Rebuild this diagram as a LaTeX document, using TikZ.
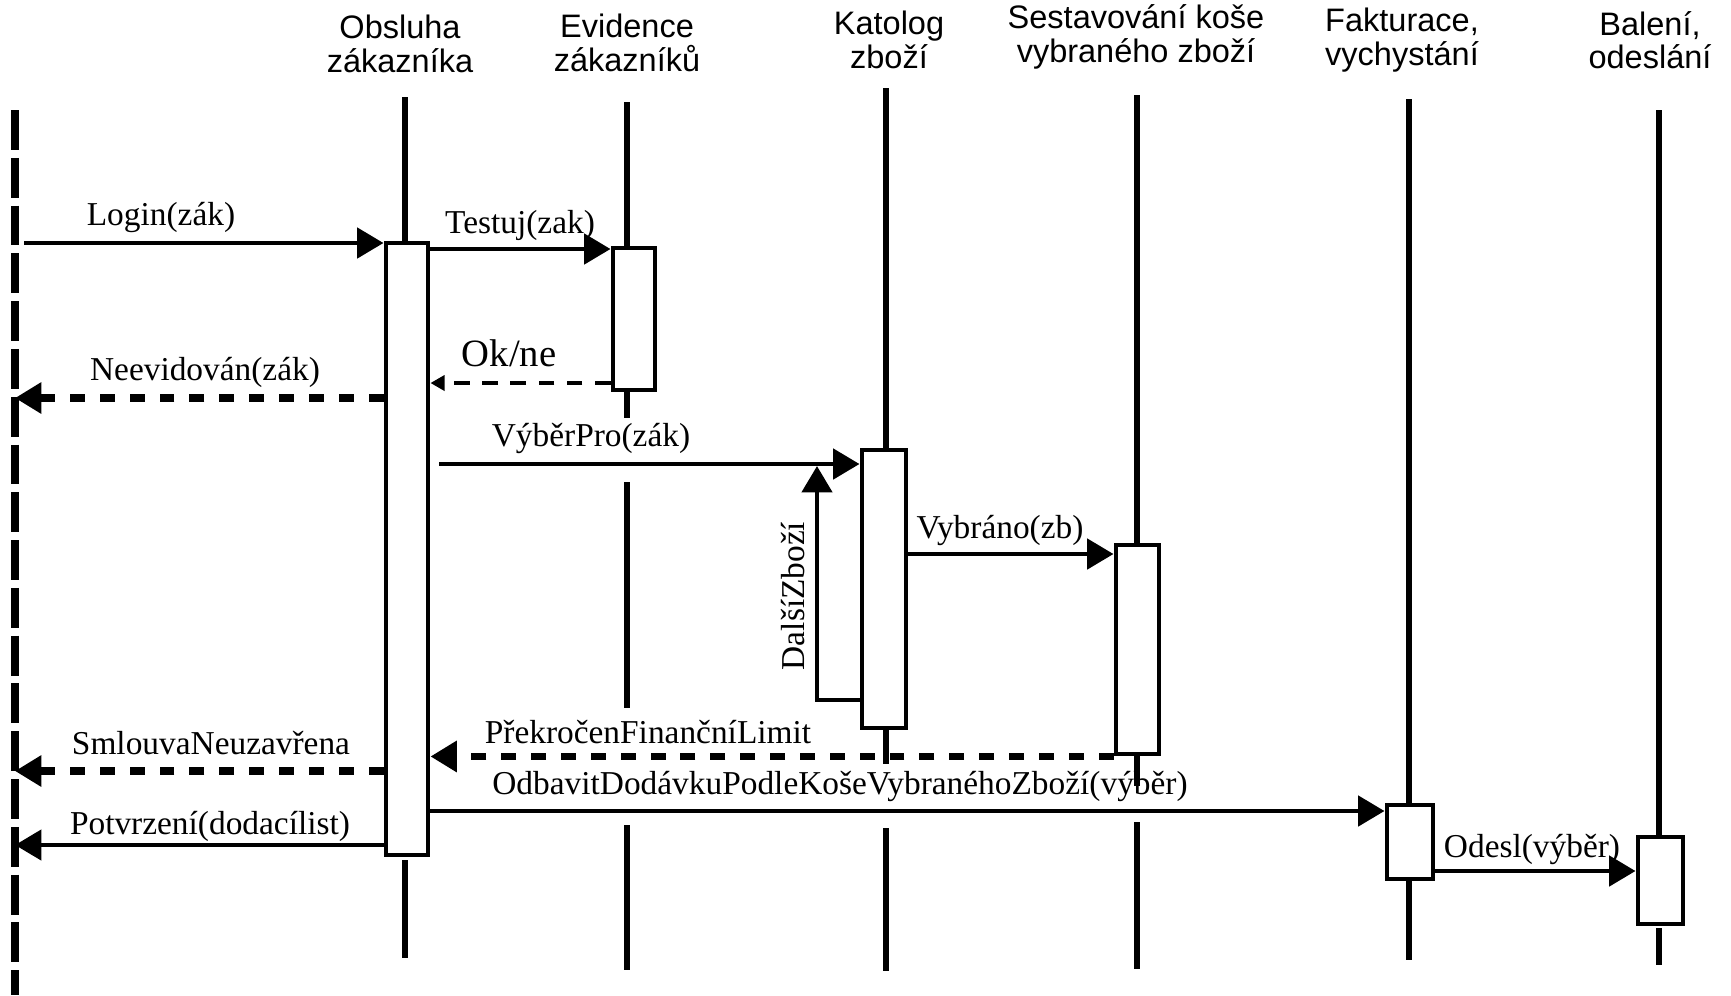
\documentclass[tikz,border=0pt]{standalone}
\usepackage{fontspec}
\setmainfont{Liberation Serif}
\newfontfamily\headfont{Liberation Sans}
\usetikzlibrary{arrows.meta,fit}
\tikzset{
	x=0.02cm, y=-0.02cm, % one unit is one pixel of the sketch, y runs down
	head/.style={font=\headfont\fontsize{18.5}{19}\selectfont, align=center, inner sep=0pt},
	lbl/.style={font=\fontsize{19}{22}\selectfont, inner sep=0pt},
	life/.style={line width=3.2pt},
	actor/.style={line width=4.5pt, dash pattern=on 22.7pt off 4.5pt},
	actbox/.style={draw, line width=2.8pt, fill=white, inner sep=0pt},
	msg/.style={line width=2.8pt, -{Triangle[length=15pt,width=17pt]}},
	ret/.style={line width=4.5pt, dash pattern=on 8.5pt off 8.5pt, -{Triangle[length=15pt,width=17pt]}},
	reply/.style={line width=2.8pt, dash pattern=on 9pt off 7pt, -{Triangle[length=8pt,width=8.5pt]}},
}
\begin{document}
\begin{tikzpicture}
	\useasboundingbox (0,0) rectangle (1731,995);
	% headings
	\node[head] (obHead) at (400,44) {Obsluha\\zákazníka};
	\node[head] (evHead) at (627,43) {Evidence\\zákazníků};
	\node[head] (kaHead) at (889,40) {Katolog\\zboží};
	\node[head] (seHead) at (1136,37) {Sestavování koše\\vybraného zboží};
	\node[head] (faHead) at (1402,40) {Fakturace,\\vychystání};
	\node[head] (baHead) at (1650,40) {Balení,\\odeslání};

	% lifelines
	\draw[life] (405,97) -- (405,243) (405,860) -- (405,958);
	\draw[life] (627,102) -- (627,248) (627,390) -- (627,418) (627,482) -- (627,708) (627,825) -- (627,970);
	\draw[life] (886,88) -- (886,450) (886,728) -- (886,764) (886,828) -- (886,971);
	\draw[life] (1137,95) -- (1137,545) (1137,754) -- (1137,786) (1137,822) -- (1137,969);
	\draw[life] (1409,99) -- (1409,805) (1409,879) -- (1409,960);
	\draw[life] (1659,110) -- (1659,837) (1659,928) -- (1659,965);

	% activations
	\node[actbox, fit={(386,243) (428,855)}] (obBox) {};
	\node[actbox, fit={(613,248) (655,390)}] (evBox) {};
	\node[actbox, fit={(862,450) (906,728)}] (kaBox) {};
	\node[actbox, fit={(1116,545) (1159,754)}] (seBox) {};
	\node[actbox, fit={(1387,805) (1433,879)}] (faBox) {};
	\node[actbox, fit={(1638,837) (1683,924)}] (baBox) {};

	% the customer
	\coordinate (usrTop) at (15,110);
	\coordinate (usrBot) at (15,995);
	\coordinate (loginStart) at (24,243);
	\coordinate (vyberStart) at (439,464);
	\draw[actor] (usrTop) -- (usrBot);

	% messages
	\draw[msg] (loginStart) -- (obBox.west |- 0,243);
	\node[lbl] (login) at (161,217) {Login(zák)};
	\draw[msg] (obBox.east |- 0,249) -- (evBox.west |- 0,249);
	\node[lbl] (testuj) at (520,225) {Testuj(zak)};
	\draw[reply] (evBox.west |- 0,383) -- (obBox.east |- 0,383);
	\node[lbl, font=\fontsize{22}{24}\selectfont] (okne) at (509,353) {Ok/ne};
	\draw[ret] (obBox.west |- 0,398) -- (usrTop |- 0,398);
	\node[lbl] (neev) at (205,372) {Neevidován(zák)};
	\draw[msg] (vyberStart) -- (kaBox.west |- vyberStart);
	\node[lbl] (vyber) at (591,438) {VýběrPro(zák)};
	\coordinate (loopCorner) at (817,700);
	\draw[msg] (kaBox.west |- loopCorner) -- (loopCorner) -- (loopCorner |- 0,466);
	\node[lbl, rotate=90] (dalsi) at (793,596) {DalšíZboží};
	\draw[msg] (kaBox.east |- 0,554) -- (seBox.west |- 0,554);
	\node[lbl] (vybrano) at (1000,530) {Vybráno(zb)};
	\draw[ret] (seBox.south west) -- (obBox.east |- seBox.south);
	\node[lbl] (limit) at (648,732) {PřekročenFinančníLimit};
	\draw[ret] (obBox.west |- 0,771) -- (usrTop |- 0,771);
	\node[lbl] (smlouva) at (211,743) {SmlouvaNeuzavřena};
	\draw[msg] (obBox.east |- 0,811) -- (faBox.west |- 0,811);
	\node[lbl] (odbavit) at (840,786) {OdbavitDodávkuPodleKošeVybranéhoZboží(výběr)};
	\draw[msg] (obBox.west |- 0,845) -- (usrTop |- 0,845);
	\node[lbl] (potvrzeni) at (210,826) {Potvrzení(dodacílist)};
	\draw[msg] (faBox.east |- 0,871) -- (baBox.west |- 0,871);
	\node[lbl] (odesl) at (1532,849) {Odesl(výběr)};
\end{tikzpicture}
\end{document}
